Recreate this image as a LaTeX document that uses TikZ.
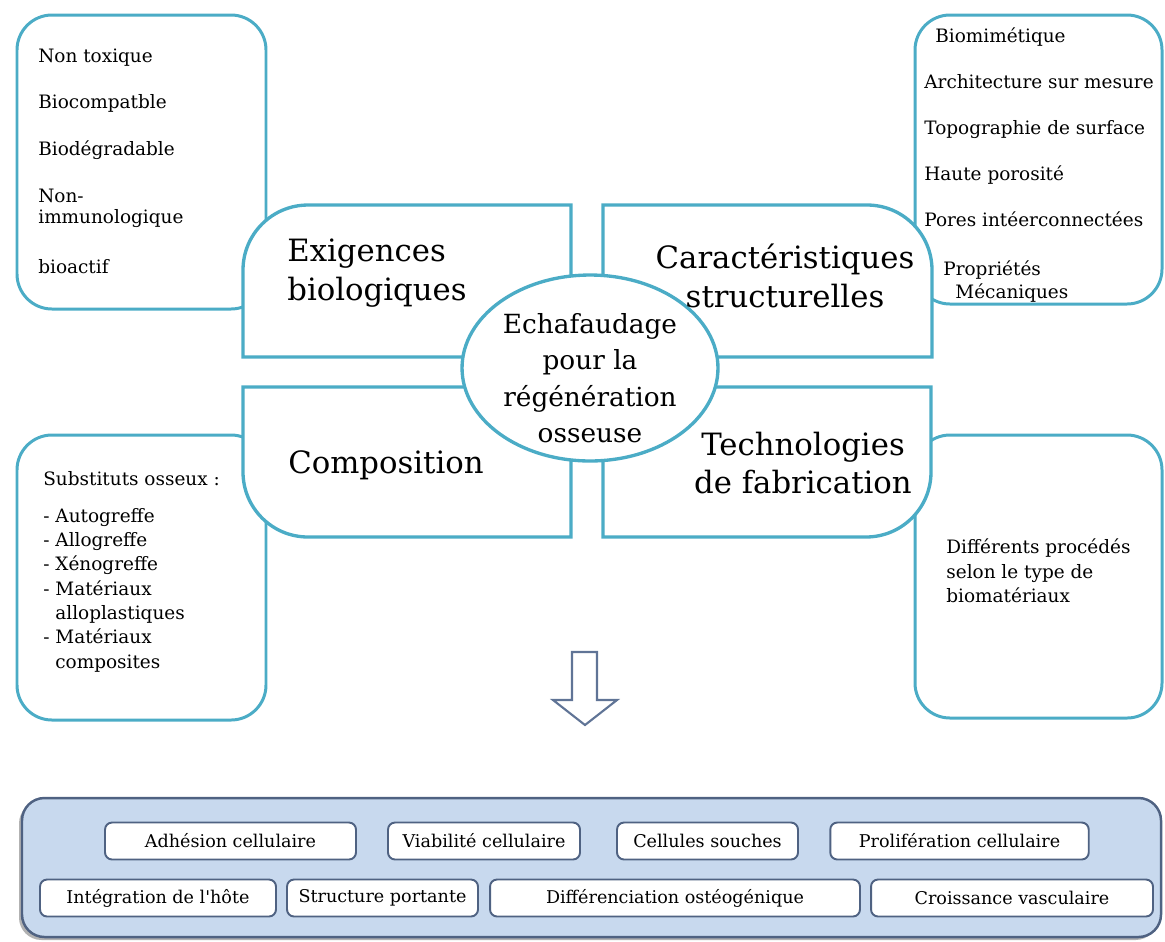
\documentclass[tikz,border=0pt]{standalone}
\usepackage{fontspec}
\setmainfont{DejaVu Serif}
\usetikzlibrary{shapes.geometric, positioning}

\definecolor{aqua}{RGB}{75,172,198}
\definecolor{slate}{RGB}{79,98,130}
\definecolor{paleblue}{RGB}{200,217,238}
\definecolor{arrowgrey}{RGB}{96,116,150}

\begin{document}
\begin{tikzpicture}[
  x=0.02cm, y=-0.02cm,
  sidebox/.style={draw=aqua, line width=1.7pt, fill=white, rounded corners=0.7cm},
  quad/.style={draw=aqua, line width=1.9pt, fill=white},
  hubshape/.style={ellipse, draw=aqua, line width=1.9pt, fill=white, minimum width=5.12cm, minimum height=3.72cm, inner sep=0},
  title/.style={font=\fontsize{17.5}{22}\selectfont, inner sep=0},
  hubtext/.style={font=\fontsize{15}{20.7}\selectfont, align=center, inner sep=0},
  item/.style={font=\fontsize{10.5}{12}\selectfont, anchor=base west, inner sep=0},
  panel/.style={draw=slate, line width=1.4pt, fill=paleblue, rounded corners=0.45cm},
  tag/.style={draw=slate, line width=1.1pt, fill=white, rounded corners=4pt, minimum height=0.74cm, inner sep=0, font=\fontsize{10}{12}\selectfont},
  blockarrow/.style={draw=arrowgrey, line width=1.2pt, fill=white, line join=miter}
]
\useasboundingbox (0,0) rectangle (1165,941);

% Side boxes
\draw[sidebox] (17,15) rectangle (266,309);
\draw[sidebox] (915,15) rectangle (1162,304);
\draw[sidebox] (17,435) rectangle (266,720);
\draw[sidebox] (915,435) rectangle (1162,718);

% Quadrants
\draw[quad] (571,357) -- (243,357) -- (243,270) arc[start angle=180, end angle=90, radius=1.3cm] -- (571,205) -- cycle;
\draw[quad] (603,357) -- (603,205) -- (867,205) arc[start angle=90, end angle=0, radius=1.3cm] -- (932,357) -- cycle;
\draw[quad] (571,387) -- (243,387) -- (243,472) arc[start angle=180, end angle=270, radius=1.3cm] -- (571,537) -- cycle;
\draw[quad] (603,387) -- (931,387) -- (931,472) arc[start angle=0, end angle=-90, radius=1.3cm] -- (603,537) -- cycle;

% Centre
\node[hubshape] (hub) at (590,368) {};
\node[hubtext] (hubtxt) at (590,378) {Echafaudage\\pour la\\régénération\\osseuse};

% Quadrant titles
\node[title, align=left, anchor=west] (req) at (287,273) {Exigences\\biologiques};
\node[title, align=center] (struct) at (785,276) {Caractéristiques\\structurelles};
\node[title, anchor=base] (comp) at (386,473) {Composition};
\node[title, align=center] (tech) at (803,463) {Technologies\\de fabrication};

% Side box texts
\foreach \y/\t [count=\i] in {62/Non toxique, 108/Biocompatble, 155/Biodégradable, 202/Non-, 223/immunologique, 273/bioactif}
  \node[item] (bio\i) at (38,\y) {\t};
\foreach \x/\y/\t [count=\i] in {935/42/Biomimétique, 924/88/Architecture sur mesure, 924/134/Topographie de surface, 924/180/Haute porosité, 924/226/Pores intéerconnectées, 943/275/Propriétés, 955/298/Mécaniques}
  \node[item] (str\i) at (\x,\y) {\t};
\foreach \x/\y/\t [count=\i] in {43/485/Substituts osseux :, 43/522/- Autogreffe, 43/546/- Allogreffe, 43/570/- Xénogreffe, 43/595/- Matériaux, 55/619/alloplastiques, 43/643/- Matériaux, 55/668/composites}
  \node[item] (sub\i) at (\x,\y) {\t};
\foreach \y/\t [count=\i] in {553/Différents procédés, 578/selon le type de, 602/biomatériaux}
  \node[item] (fab\i) at (946,\y) {\t};

% Arrow
\draw[blockarrow] (572,652) -- (597,652) -- (597,700) -- (617,700) -- (585,725) -- (553,700) -- (572,700) -- cycle;

% Bottom panel
\fill[black!30, rounded corners=0.45cm] (19,801) rectangle (1158,940);
\draw[panel] (22,798) rectangle (1161,937);
\foreach \n/\x/\y/\w/\t in {adh/230.5/841/5.02/Adhésion cellulaire, via/484/841/3.84/Viabilité cellulaire, sou/707.5/841/3.62/Cellules souches, pro/959.5/841/5.17/Prolifération cellulaire, hot/158/898/4.72/Intégration de l\textquotesingle hôte, por/382.5/898/3.82/Structure portante, dif/675/898/7.40/Différenciation ostéogénique, vas/1012/898/5.64/Croissance vasculaire}
  \node[tag, minimum width=\w cm] (\n) at (\x,\y) {\t};

\end{tikzpicture}
\end{document}
